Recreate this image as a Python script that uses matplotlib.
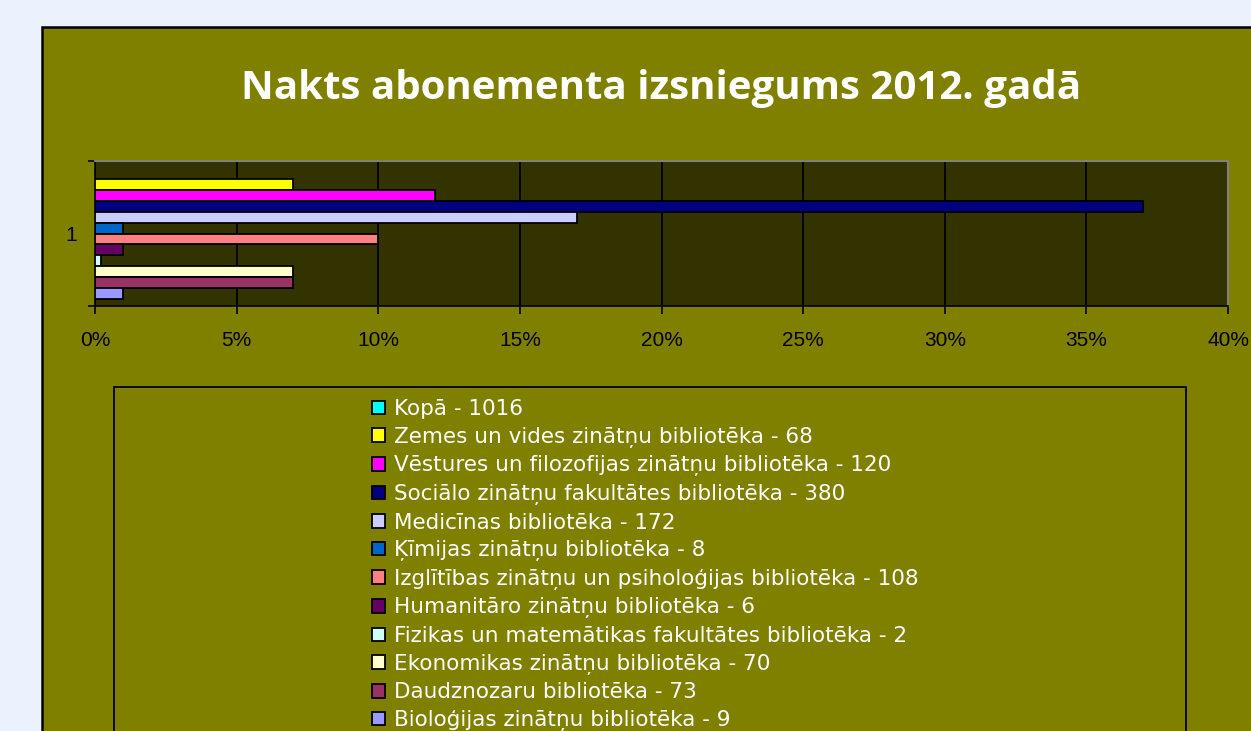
import matplotlib
matplotlib.use("Agg")
import matplotlib.pyplot as plt
from matplotlib.patches import Rectangle, Patch
from matplotlib.ticker import FuncFormatter, FixedLocator

# ---- data ----
title = "Nakts abonementa izsniegums 2012. gadā"
series_names = [
    "Kopā - 1016",
    "Zemes un vides zinātņu bibliotēka - 68",
    "Vēstures un filozofijas zinātņu bibliotēka - 120",
    "Sociālo zinātņu fakultātes bibliotēka - 380",
    "Medicīnas bibliotēka - 172",
    "Ķīmijas zinātņu bibliotēka - 8",
    "Izglītības zinātņu un psiholoģijas bibliotēka - 108",
    "Humanitāro zinātņu bibliotēka - 6",
    "Fizikas un matemātikas fakultātes bibliotēka - 2",
    "Ekonomikas zinātņu bibliotēka - 70",
    "Daudznozaru bibliotēka - 73",
    "Bioloģijas zinātņu bibliotēka - 9",
]
percent_values = [0, 7, 12, 37, 17, 1, 10, 1, 0.2, 7, 7, 1]
series_colors = ["#00FFFF", "#FFFF00", "#FF00FF", "#000080", "#CCCCFF", "#0066CC",
                 "#FF8080", "#660066", "#CCFFFF", "#FFFFCC", "#993366", "#9999FF"]
category_labels = ["1"]
x_ticks = [0, 5, 10, 15, 20, 25, 30, 35, 40]

W, H = 1251, 731
fig = plt.figure(figsize=(W / 100, H / 100), dpi=100)
fig.patch.set_facecolor("#EAF2FD")

def fx(px):
    return px / W

def fy(py):
    return 1 - py / H

# chart area (olive)
fig.patches.append(Rectangle((fx(42), fy(760)), fx(1300) - fx(42), fy(27) - fy(760),
                             transform=fig.transFigure, facecolor="#808000",
                             edgecolor="black", linewidth=1.8, zorder=-2))
# legend box
fig.patches.append(Rectangle((fx(114), fy(760)), fx(1186) - fx(114), fy(387) - fy(760),
                             transform=fig.transFigure, facecolor="none",
                             edgecolor="black", linewidth=1.3, zorder=-1))

ax = fig.add_axes([fx(95), fy(306), fx(1228) - fx(95), fy(161) - fy(306)])
ax.set_zorder(2)
ax.set_facecolor("#333300")

n = len(series_names)
group = 130 / 145
bh = group / n
for i, (val, col) in enumerate(zip(percent_values, series_colors)):
    yc = 1 + group / 2 - (i + 0.5) * bh
    if val > 0:
        ax.barh(yc, val, height=bh, color=col, edgecolor="black", linewidth=1.3, zorder=3)

ax.set_xlim(0, 40)
ax.set_ylim(0.5, 1.5)
ax.xaxis.set_major_locator(FixedLocator(x_ticks))
ax.xaxis.set_major_formatter(FuncFormatter(lambda v, p: f"{v:.0f}%"))
ax.grid(axis="x", color="black", linewidth=1.3, zorder=1)
ax.set_axisbelow(True)

ax.yaxis.set_major_locator(FixedLocator([0.5, 1.5]))
ax.set_yticklabels(["", ""])
ax.yaxis.set_minor_locator(FixedLocator([1]))
ax.yaxis.set_minor_formatter(FuncFormatter(lambda v, p: category_labels[0]))
ax.tick_params(axis="y", which="major", length=5, width=1.2, color="black", direction="out")
ax.tick_params(axis="y", which="minor", length=0, pad=13, labelsize=15, labelcolor="black")
ax.tick_params(axis="x", length=6, width=1.2, color="black", direction="out", pad=12,
               labelsize=15, labelcolor="black")
for lbl in ax.get_xticklabels() + ax.get_yticklabels(minor=True):
    lbl.set_fontfamily("Liberation Sans")

ax.spines["left"].set_color("black")
ax.spines["bottom"].set_color("black")
ax.spines["left"].set_linewidth(1.2)
ax.spines["bottom"].set_linewidth(1.2)
ax.spines["top"].set_color("#808080")
ax.spines["right"].set_color("#808080")
ax.spines["top"].set_linewidth(1.5)
ax.spines["right"].set_linewidth(1.5)

fig.text(fx(661), fy(89), title, ha="center", va="center", color="white",
         fontsize=29, fontweight="bold", fontfamily="Open Sans")

handles = [Patch(facecolor=c, edgecolor="black", linewidth=1.3) for c in series_colors]
fig.legend(handles, series_names, loc="upper left", bbox_to_anchor=(fx(372), fy(399)),
           frameon=False, handlelength=0.6, handleheight=0.6, handletextpad=0.42,
           labelspacing=0.355, borderpad=0, borderaxespad=0,
           prop={"family": "DejaVu Sans", "size": 15.5}, labelcolor="white")

fig.savefig("out.png", dpi=100, facecolor=fig.get_facecolor())
